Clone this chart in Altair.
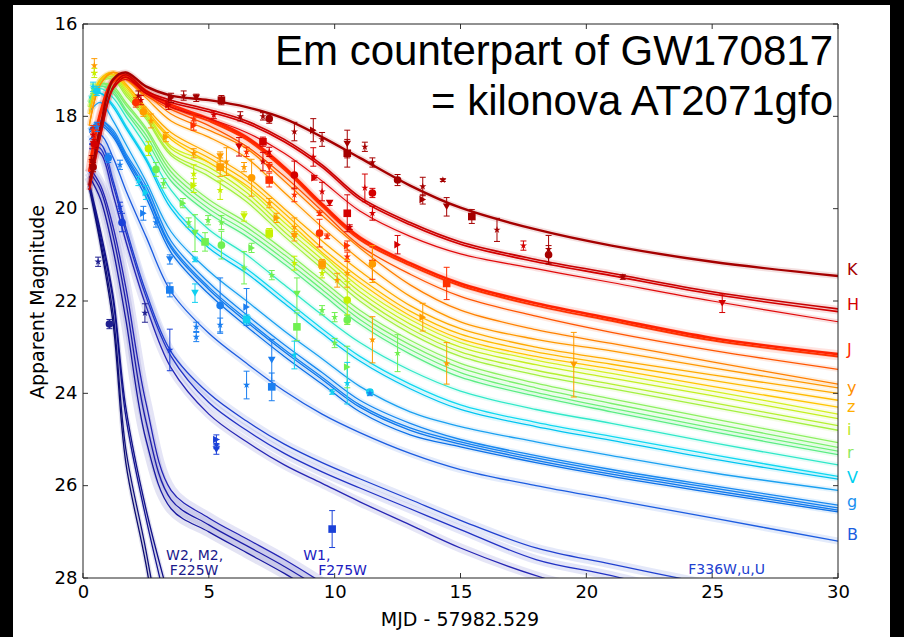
import altair as alt
import pandas as pd

# ---------------------------------------------------------------- model grid
T = [0.25, 0.7, 1.2, 1.7, 2.5, 3.5, 5, 6.5, 8, 9.5, 11, 13, 15, 18, 21, 25, 30]

# model light curves (apparent magnitude at each T)
K_1 = [19.5, 18.2, 17.2, 17.05, 17.35, 17.55, 17.65, 17.8, 18.05, 18.45, 18.9, 19.5, 19.98, 20.45, 20.8, 21.15, 21.46]
H_1 = [19.6, 18.4, 17.35, 17.1, 17.45, 17.65, 17.85, 18.1, 18.5, 19.05, 19.75, 20.3, 20.72, 21.1, 21.4, 21.8, 22.17]
H_2 = [19.6, 18.4, 17.4, 17.15, 17.5, 17.7, 17.9, 18.15, 18.55, 19.1, 19.8, 20.35, 20.77, 21.15, 21.45, 21.85, 22.23]
H_3 = [19.5, 18.3, 17.4, 17.2, 17.5, 17.8, 18.05, 18.35, 18.8, 19.4, 20.05, 20.6, 20.98, 21.3, 21.6, 22.0, 22.45]
J_1 = [19.2, 17.9, 17.2, 17.1, 17.45, 17.75, 18.05, 18.45, 19.1, 19.9, 20.62, 21.18, 21.62, 22.05, 22.38, 22.8, 23.15]
J_2 = [19.2, 17.95, 17.25, 17.15, 17.5, 17.8, 18.1, 18.5, 19.15, 19.95, 20.67, 21.23, 21.67, 22.1, 22.43, 22.85, 23.2]
J_3 = [19.0, 17.9, 17.25, 17.2, 17.55, 17.85, 18.2, 18.65, 19.3, 20.05, 20.8, 21.42, 21.9, 22.33, 22.68, 23.07, 23.48]
Y_1 = [18.2, 17.3, 17.05, 17.15, 17.5, 17.95, 18.3, 18.7, 19.4, 20.15, 20.85, 21.65, 22.2, 22.62, 22.92, 23.32, 23.8]
Y_2 = [18.2, 17.3, 17.05, 17.2, 17.6, 18.1, 18.45, 18.9, 19.65, 20.4, 21.1, 21.9, 22.45, 22.83, 23.08, 23.45, 23.88]
Z_1 = [17.95, 17.2, 17.05, 17.3, 17.8, 18.35, 18.8, 19.3, 20.0, 20.7, 21.35, 22.1, 22.6, 23.0, 23.27, 23.6, 24.0]
Z_2 = [17.95, 17.2, 17.05, 17.3, 17.85, 18.45, 18.9, 19.4, 20.1, 20.85, 21.5, 22.22, 22.72, 23.1, 23.37, 23.72, 24.15]
Z_3 = [17.95, 17.2, 17.1, 17.35, 17.9, 18.5, 19.0, 19.5, 20.2, 20.95, 21.6, 22.32, 22.82, 23.2, 23.47, 23.85, 24.3]
I_1 = [17.8, 17.2, 17.1, 17.4, 17.9, 18.65, 19.0, 19.55, 20.3, 21.0, 21.7, 22.4, 22.9, 23.28, 23.57, 23.95, 24.45]
I_2 = [17.8, 17.2, 17.1, 17.45, 17.95, 18.7, 19.1, 19.65, 20.4, 21.1, 21.8, 22.5, 23.0, 23.38, 23.67, 24.05, 24.55]
I_3 = [17.8, 17.25, 17.15, 17.5, 18.0, 18.8, 19.2, 19.75, 20.5, 21.2, 21.9, 22.6, 23.1, 23.5, 23.8, 24.2, 24.7]
I_4 = [17.8, 17.25, 17.2, 17.55, 18.05, 18.85, 19.3, 19.85, 20.6, 21.3, 22.0, 22.7, 23.2, 23.6, 23.9, 24.3, 24.8]
R_1 = [17.7, 17.3, 17.35, 17.7, 18.25, 19.1, 19.8, 20.3, 20.9, 21.55, 22.2, 22.85, 23.35, 23.78, 24.12, 24.55, 25.07]
R_2 = [17.7, 17.3, 17.4, 17.75, 18.3, 19.2, 19.9, 20.4, 21.0, 21.65, 22.3, 22.95, 23.45, 23.88, 24.22, 24.65, 25.17]
R_3 = [17.7, 17.35, 17.45, 17.85, 18.4, 19.3, 20.0, 20.5, 21.1, 21.75, 22.4, 23.05, 23.55, 23.98, 24.32, 24.75, 25.25]
R_4 = [17.7, 17.35, 17.5, 17.9, 18.5, 19.4, 20.1, 20.6, 21.2, 21.85, 22.5, 23.15, 23.65, 24.06, 24.4, 24.83, 25.33]
TE_1 = [17.6, 17.4, 17.6, 18.0, 18.65, 19.6, 20.45, 21.0, 21.65, 22.3, 22.9, 23.5, 23.95, 24.35, 24.65, 25.07, 25.55]
V_1 = [17.6, 17.5, 17.75, 18.2, 18.9, 19.9, 20.75, 21.3, 21.95, 22.6, 23.2, 23.8, 24.25, 24.63, 24.93, 25.33, 25.8]
V_2 = [17.6, 17.5, 17.8, 18.25, 18.95, 20.0, 20.85, 21.4, 22.05, 22.7, 23.3, 23.9, 24.35, 24.72, 25.02, 25.42, 25.86]
BL_1 = [17.9, 17.7, 18.1, 18.6, 19.4, 20.5, 21.35, 22.0, 22.65, 23.25, 23.85, 24.4, 24.72, 25.05, 25.35, 25.72, 26.1]
G_1 = [18.3, 18.1, 18.3, 18.8, 19.5, 20.7, 21.6, 22.3, 22.95, 23.55, 24.15, 24.65, 25.0, 25.35, 25.65, 26.0, 26.42]
G_2 = [18.3, 18.1, 18.35, 18.85, 19.6, 20.8, 21.7, 22.4, 23.05, 23.65, 24.25, 24.75, 25.05, 25.4, 25.7, 26.05, 26.48]
G_3 = [18.3, 18.15, 18.4, 18.9, 19.65, 20.85, 21.75, 22.45, 23.1, 23.7, 24.3, 24.8, 25.1, 25.45, 25.75, 26.1, 26.53]
G_4 = [18.35, 18.2, 18.45, 18.95, 19.75, 20.95, 21.85, 22.55, 23.2, 23.8, 24.4, 24.9, 25.16, 25.5, 25.8, 26.15, 26.57]
B_1 = [18.5, 18.4, 18.9, 19.6, 20.6, 21.8, 22.7, 23.35, 23.95, 24.45, 24.85, 25.3, 25.65, 26.0, 26.3, 26.7, 27.2]
U_1 = [18.6, 18.6, 19.4, 20.4, 21.8, 23.1, 24.0, 24.6, 25.1, 25.5, 25.85, 26.3, 26.75, 27.35, 27.7, 28.15, None]
U_2 = [18.6, 18.7, 19.5, 20.5, 21.9, 23.2, 24.2, 24.8, 25.3, 25.7, 26.05, 26.5, 26.95, 27.6, 27.95, 28.5, None]
U_3 = [18.7, 18.8, 19.7, 20.7, 22.1, 23.45, 24.45, 25.05, 25.55, 25.95, 26.35, 26.85, 27.35, 27.95, 28.4, None, None]
W1_1 = [19.2, 19.6, 20.6, 22.0, 24.6, 26.3, 26.85, 27.3, 27.75, 28.25, None, None, None, None, None, None, None]
W1_2 = [19.3, 19.8, 20.9, 22.4, 25.0, 26.5, 27.0, 27.45, 27.9, 28.4, None, None, None, None, None, None, None]
W1_3 = [19.1, 19.5, 20.4, 21.7, 24.2, 26.1, 26.7, 27.15, 27.6, 28.1, None, None, None, None, None, None, None]
W2_1 = [19.5, 20.7, 22.3, 25.2, 27.4, 30.5, None, None, None, None, None, None, None, None, None, None, None]
W2_2 = [19.55, 20.8, 22.5, 25.5, 27.7, 31.0, None, None, None, None, None, None, None, None, None, None, None]
W2_3 = [19.5, 20.6, 22.0, 24.5, 26.7, 29.0, None, None, None, None, None, None, None, None, None, None, None]
W2_4 = [19.45, 20.5, 21.9, 24.3, 26.5, 28.6, None, None, None, None, None, None, None, None, None, None, None]

CURVES = [
    ("W2_1", W2_1), ("W2_2", W2_2), ("W2_3", W2_3), ("W2_4", W2_4),
    ("W1_1", W1_1), ("W1_2", W1_2), ("W1_3", W1_3),
    ("U_1", U_1), ("U_2", U_2), ("U_3", U_3),
    ("B_1", B_1), ("G_1", G_1), ("G_2", G_2), ("G_3", G_3), ("G_4", G_4),
    ("BL_1", BL_1), ("V_1", V_1), ("V_2", V_2), ("TE_1", TE_1),
    ("R_1", R_1), ("R_2", R_2), ("R_3", R_3), ("R_4", R_4),
    ("I_1", I_1), ("I_2", I_2), ("I_3", I_3), ("I_4", I_4),
    ("Z_1", Z_1), ("Z_2", Z_2), ("Z_3", Z_3), ("Y_1", Y_1), ("Y_2", Y_2),
    ("J_3", J_3), ("J_2", J_2), ("J_1", J_1),
    ("H_3", H_3), ("H_2", H_2), ("H_1", H_1), ("K_1", K_1),
]

# line colour, line width, width of the shaded uncertainty band
LINE_STYLE = {
    "K_1": ("#a50000", 2.4, 6), "H_1": ("#c80000", 1.6, 6), "H_2": ("#d20000", 1.6, 6),
    "H_3": ("#e00a0a", 1.2, 5), "J_1": ("#ff2200", 2.6, 8), "J_2": ("#ff3300", 2.0, 8),
    "J_3": ("#ff5500", 1.3, 5), "Y_1": ("#ff8000", 1.3, 5), "Y_2": ("#ff9800", 1.3, 5),
    "Z_1": ("#ffaa00", 1.3, 5), "Z_2": ("#ffba00", 1.3, 5), "Z_3": ("#ffc600", 1.3, 5),
    "I_1": ("#d4f020", 1.3, 5), "I_2": ("#c4f020", 1.3, 5), "I_3": ("#b4f030", 1.3, 5),
    "I_4": ("#a4f040", 1.3, 5), "R_1": ("#8cf060", 1.3, 5), "R_2": ("#7cf06c", 1.3, 5),
    "R_3": ("#6cf078", 1.3, 5), "R_4": ("#5cec84", 1.3, 5), "TE_1": ("#30e8c8", 1.3, 5),
    "V_1": ("#10d8f0", 1.3, 5), "V_2": ("#00c4f0", 1.3, 5), "BL_1": ("#1aa0f0", 1.3, 5),
    "G_1": ("#1888f0", 1.3, 5), "G_2": ("#1480f0", 1.3, 5), "G_3": ("#1078ec", 1.3, 5),
    "G_4": ("#0c70e8", 1.3, 5), "B_1": ("#1c5ce0", 1.3, 7), "U_1": ("#2040d0", 1.3, 9),
    "U_2": ("#2232c4", 1.3, 9), "U_3": ("#2626b4", 1.3, 9), "W1_1": ("#1c1ca8", 1.3, 11),
    "W1_2": ("#1a1aa0", 1.3, 11), "W1_3": ("#2424b4", 1.3, 11), "W2_1": ("#10107c", 1.3, 4),
    "W2_2": ("#0c0c70", 1.3, 4), "W2_3": ("#141490", 1.3, 4), "W2_4": ("#101088", 1.3, 4),
}

# ---------------------------------------------------------------- photometry
K_PTS = dict(
    t=[0.35, 0.4, 2.2, 3.5, 4.0, 4.5, 5.5, 6.25, 7.15, 7.4, 8.4, 9.15, 9.5, 10.5, 10.5, 11.2, 11.5, 12.5, 13.5, 13.5, 14.3, 14.45, 15.45, 16.45, 18.5, 18.5, 21.45],
    m=[18.95, 19.1, 17.55, 17.6, 17.55, 17.6, 17.65, 18.0, 18.0, 18.05, 18.33, 18.3, 18.5, 18.6, 18.8, 18.66, 19.0, 19.38, 19.52, 19.8, 19.38, 19.96, 20.17, 20.46, 20.88, 21.0, 21.48],
    e=[0.1, 0.1, 0.1, 0.1, 0.1, 0.08, 0.1, 0.1, 0.08, 0.1, 0.2, 0.25, 0.15, 0.3, 0.3, 0.1, 0.1, 0.12, 0.2, 0.1, 0.03, 0.2, 0.15, 0.25, 0.3, 0.2, 0.05],
)
H_PTS = dict(
    t=[0.4, 0.45, 2.3, 3.4, 5.2, 6.2, 7.15, 7.4, 7.15, 8.4, 9.15, 9.2, 9.5, 9.8, 10.5, 10.6, 11.2, 11.5, 11.5, 12.5, 17.5, 25.4],
    m=[18.4, 18.6, 17.65, 17.75, 17.97, 18.66, 18.55, 18.77, 18.98, 19.27, 18.88, 19.33, 19.63, 19.88, 20.1, 20.4, 19.55, 19.66, 20.1, 20.78, 20.8, 22.05],
    e=[0.15, 0.1, 0.1, 0.1, 0.08, 0.2, 0.1, 0.1, 0.2, 0.3, 0.2, 0.05, 0.2, 0.05, 0.4, 0.05, 0.3, 0.1, 0.15, 0.2, 0.1, 0.2],
)
J_PTS = dict(
    t=[0.4, 2.1, 4.4, 4.4, 6.5, 7.4, 7.4, 8.4, 9.4, 9.4, 9.7, 10.5, 10.5, 11.5, 14.45],
    m=[18.3, 17.7, 18.05, 18.2, 18.77, 19.1, 19.38, 19.7, 20.1, 20.53, 20.6, 20.8, 21.04, 21.18, 21.62],
    e=[0.1, 0.1, 0.1, 0.1, 0.1, 0.1, 0.15, 0.15, 0.05, 0.3, 0.05, 0.1, 0.1, 0.35, 0.35],
)
Y_PTS = dict(
    t=[0.45, 2.4, 2.7, 3.3, 4.4, 5.45, 5.45, 5.7, 6.4, 6.7, 7.4, 7.7, 8.4, 8.4, 9.5, 10.1, 10.5, 11.5, 11.5, 13.5, 14.45, 19.5],
    m=[16.9, 17.9, 18.1, 18.45, 18.8, 18.87, 19.1, 18.98, 19.1, 19.33, 19.88, 20.2, 20.4, 20.6, 21.2, 21.55, 21.4, 21.2, 22.84, 22.35, 23.35, 23.38],
    e=[0.15, 0.1, 0.15, 0.1, 0.1, 0.1, 0.2, 0.3, 0.1, 0.4, 0.1, 0.1, 0.2, 0.1, 0.1, 0.15, 0.3, 0.4, 0.5, 0.3, 0.45, 0.7],
)
I_PTS = dict(
    t=[0.45, 2.6, 4.4, 4.4, 5.45, 6.4, 7.4, 8.4, 9.5, 10.5, 10.5],
    m=[17.06, 18.7, 19.25, 19.5, 19.6, 20.17, 20.53, 21.18, 21.4, 21.98, 22.4],
    e=[0.1, 0.15, 0.2, 0.15, 0.2, 0.1, 0.1, 0.15, 0.1, 0.4, 0.1],
)
R_PTS = dict(
    t=[0.4, 2.9, 3.2, 3.97, 4.2, 4.45, 4.85, 4.97, 5.5, 5.5, 6.4, 6.7, 7.5, 8.5, 8.5, 9.5, 10.0, 10.5, 10.0, 10.5, 12.5],
    m=[17.4, 19.15, 19.45, 19.88, 20.3, 20.53, 20.72, 20.25, 20.3, 20.79, 21.28, 20.85, 21.44, 21.85, 22.56, 22.2, 22.35, 22.41, 22.91, 23.43, 23.13],
    e=[0.1, 0.15, 0.1, 0.1, 0.1, 0.4, 0.2, 0.1, 0.15, 0.3, 0.35, 0.1, 0.1, 0.35, 0.3, 0.1, 0.1, 0.1, 0.1, 0.45, 0.4],
)
V_PTS = dict(
    t=[0.4, 0.55, 2.2, 2.5, 4.45, 4.45, 6.5, 8.4, 9.9, 11.4, 10.5],
    m=[17.36, 17.45, 19.4, 19.65, 21.1, 21.83, 22.4, 23.17, 23.97, 23.97, 23.78],
    e=[0.1, 0.1, 0.1, 0.15, 0.05, 0.2, 0.1, 0.3, 0.05, 0.05, 0.45],
)
G_PTS = dict(
    t=[0.55, 1.0, 1.47, 2.4, 2.9, 3.45, 3.45, 4.5, 4.5, 5.45, 5.45, 6.5, 6.5, 7.5, 7.5, 11.4],
    m=[18.23, 18.9, 19.05, 20.1, 20.3, 21.1, 21.76, 22.56, 22.78, 22.1, 22.52, 22.13, 23.82, 23.28, 23.86, 24.0],
    e=[0.1, 0.1, 0.1, 0.15, 0.1, 0.1, 0.15, 0.1, 0.1, 0.6, 0.15, 0.4, 0.3, 0.45, 0.3, 0.05],
)
U_PTS = dict(
    t=[1.47, 1.55, 3.45, 5.3, 5.3, 5.3, 9.9],
    m=[19.96, 20.3, 23.06, 25.0, 25.1, 25.22, 26.94],
    e=[0.1, 0.2, 0.45, 0.1, 0.1, 0.1, 0.4],
)
W_PTS = dict(
    t=[0.6, 1.05, 2.46],
    m=[21.15, 22.5, 22.26],
    e=[0.1, 0.1, 0.2],
)

PTS = [("K", K_PTS), ("H", H_PTS), ("J", J_PTS), ("Y", Y_PTS), ("I", I_PTS),
       ("R", R_PTS), ("V", V_PTS), ("G", G_PTS), ("U", U_PTS), ("W", W_PTS)]
PT_COLOR = {"K": "#a50000", "H": "#d40000", "J": "#ff3000", "Y": "#ff9c00", "I": "#c8f000",
            "R": "#70f050", "V": "#10d0f0", "G": "#1a7ef0", "U": "#1a40d8", "W": "#202090"}
MARKERS = ["star", "circle", "star", "tri", "star", "down", "square", "star"]

# ---------------------------------------------------------------- band labels
BAND_NAMES = ["K", "H", "J", "y", "z", "i", "r", "V", "g", "B"]
BAND_MAG = [21.33, 22.09, 23.06, 23.88, 24.3, 24.79, 25.29, 25.83, 26.35, 27.07]
BAND_COLORS = ["#a50000", "#d40000", "#ff2a00", "#ff9000", "#ffae00", "#b8e628",
               "#8ee860", "#00d0f0", "#1890f0", "#1a5ee0"]

UV_TEXT = ["W2, M2,", "F225W", "W1,", "F275W", "F336W,u,U"]
UV_T = [3.3, 3.45, 8.75, 9.35, 24.05]
UV_MAG = [27.52, 27.85, 27.52, 27.85, 27.83]
UV_COLORS = ["#1a1a8c", "#1a1a8c", "#2020c0", "#2020c0", "#2040d0"]

X_TICKS = [0, 5, 10, 15, 20, 25, 30]
Y_TICKS = [16, 18, 20, 22, 24, 26, 28]

W, H = 755, 554

# ---------------------------------------------------------------- tables
rows = []
for cid, mags in CURVES:
    col, lw, halo = LINE_STYLE[cid]
    for t, m in zip(T, mags):
        if m is None:
            continue
        rows.append(dict(id=cid, t=t, m=m, color=col, w=lw, halo=halo))
lines = pd.DataFrame(rows)

prow = []
for band, d in PTS:
    for k, (t, m, e) in enumerate(zip(d["t"], d["m"], d["e"])):
        prow.append(dict(t=t, m=m, lo=m - e, hi=m + e, color=PT_COLOR[band],
                         mk=MARKERS[k % len(MARKERS)]))
pts = pd.DataFrame(prow)

STAR = ("M0,-1L0.2245,-0.309L0.951,-0.309L0.363,0.118L0.588,0.809L0,0.382"
        "L-0.588,0.809L-0.363,0.118L-0.951,-0.309L-0.2245,-0.309Z")
shape_scale = alt.Scale(domain=["star", "circle", "tri", "down", "square"],
                        range=[STAR, "circle", "triangle-right", "triangle-down", "square"])

xs = alt.Scale(domain=[0, 30], nice=False, zero=False)
ys = alt.Scale(domain=[16, 28], reverse=True, nice=False, zero=False)

x_axis = alt.Axis(values=X_TICKS, ticks=False, domain=False, grid=False, title=None,
                  labelFont="DejaVu Sans", labelFontSize=18, labelColor="black",
                  labelPadding=5, labelFlush=False, zindex=2)
y_axis = alt.Axis(values=Y_TICKS, ticks=False, domain=False, grid=False, title=None,
                  labelFont="DejaVu Sans", labelFontSize=18, labelColor="black",
                  labelPadding=6, labelFlush=False, zindex=2)


def X(f):
    return alt.X(f, scale=xs, axis=x_axis)


def Y(f):
    return alt.Y(f, scale=ys, axis=y_axis)


one = pd.DataFrame({"a": [0]})

paper = alt.Chart(one).mark_rect(color="white").encode(
    x=alt.value(-70), x2=alt.value(807), y=alt.value(-19), y2=alt.value(613))

halo = alt.Chart(lines).mark_line(interpolate="catmull-rom", clip=True, opacity=0.12).encode(
    x=X("t:Q"), y=Y("m:Q"), detail="id:N",
    color=alt.Color("color:N", scale=None),
    strokeWidth=alt.StrokeWidth("halo:Q", scale=None))

curves = alt.Chart(lines).mark_line(interpolate="catmull-rom", clip=True).encode(
    x=X("t:Q"), y=Y("m:Q"), detail="id:N",
    color=alt.Color("color:N", scale=None),
    strokeWidth=alt.StrokeWidth("w:Q", scale=None))

bars = alt.Chart(pts).mark_rule(strokeWidth=1, clip=True).encode(
    x=X("t:Q"), y=Y("lo:Q"), y2="hi:Q", color=alt.Color("color:N", scale=None))
cap_lo = alt.Chart(pts).mark_rule(strokeWidth=1, xOffset=-3, x2Offset=3).encode(
    x=X("t:Q"), x2="t:Q", y=Y("lo:Q"), color=alt.Color("color:N", scale=None))
cap_hi = alt.Chart(pts).mark_rule(strokeWidth=1, xOffset=-3, x2Offset=3).encode(
    x=X("t:Q"), x2="t:Q", y=Y("hi:Q"), color=alt.Color("color:N", scale=None))
marks = alt.Chart(pts).mark_point(filled=True, size=58, opacity=1).encode(
    x=X("t:Q"), y=Y("m:Q"),
    color=alt.Color("color:N", scale=None),
    shape=alt.Shape("mk:N", scale=shape_scale, legend=None))

xt = pd.DataFrame({"v": X_TICKS})
yt = pd.DataFrame({"v": Y_TICKS})
tick_b = alt.Chart(xt).mark_rule(color="#333").encode(x=X("v:Q"), y=alt.value(H), y2=alt.value(H - 5))
tick_t = alt.Chart(xt).mark_rule(color="#333").encode(x=X("v:Q"), y=alt.value(0), y2=alt.value(5))
tick_l = alt.Chart(yt).mark_rule(color="#333").encode(y=Y("v:Q"), x=alt.value(0), x2=alt.value(5))
tick_r = alt.Chart(yt).mark_rule(color="#333").encode(y=Y("v:Q"), x=alt.value(W), x2=alt.value(W - 5))

frame = alt.Chart(one).mark_rect(fill=None, stroke="#222", strokeWidth=1).encode(
    x=alt.value(0), x2=alt.value(W), y=alt.value(0), y2=alt.value(H))

bands = pd.DataFrame({"name": BAND_NAMES, "m": BAND_MAG, "color": BAND_COLORS})
band_text = alt.Chart(bands).mark_text(align="left", baseline="middle", font="DejaVu Sans",
                                       fontSize=16).encode(
    x=alt.value(764), y=Y("m:Q"), text="name:N", color=alt.Color("color:N", scale=None))

uv = pd.DataFrame({"txt": UV_TEXT, "t": UV_T, "m": UV_MAG, "color": UV_COLORS})
uv_text = alt.Chart(uv).mark_text(align="left", baseline="middle", font="DejaVu Sans",
                                  fontSize=14).encode(
    x=X("t:Q"), y=Y("m:Q"), text="txt:N", color=alt.Color("color:N", scale=None))

title1 = alt.Chart(one).mark_text(align="right", baseline="middle", font="Liberation Sans",
                                  fontSize=42, color="black").encode(
    x=alt.value(750), y=alt.value(28), text=alt.value("Em counterpart of GW170817"))
title2 = alt.Chart(one).mark_text(align="right", baseline="middle", font="Liberation Sans",
                                  fontSize=42, color="black").encode(
    x=alt.value(750), y=alt.value(78), text=alt.value("= kilonova AT2071gfo"))

xlab = alt.Chart(one).mark_text(align="center", baseline="middle", font="DejaVu Sans",
                                fontSize=19, color="black").encode(
    x=alt.value(377), y=alt.value(596), text=alt.value("MJD - 57982.529"))
ylab = alt.Chart(one).mark_text(align="center", baseline="middle", font="DejaVu Sans",
                                fontSize=19, color="black", angle=270).encode(
    x=alt.value(-45), y=alt.value(278), text=alt.value("Apparent Magnitude"))

chart = alt.layer(
    paper, halo, curves, bars, cap_lo, cap_hi, marks,
    tick_b, tick_t, tick_l, tick_r, frame,
    band_text, uv_text, title1, title2, xlab, ylab,
).properties(
    width=W, height=H,
    autosize=alt.AutoSizeParams(type="none"),
    padding={"left": 83, "top": 24, "right": 66, "bottom": 59},
).configure(background="black").configure_view(stroke=None)

chart.save("out.html", embed_options={"renderer": "svg", "actions": False})
